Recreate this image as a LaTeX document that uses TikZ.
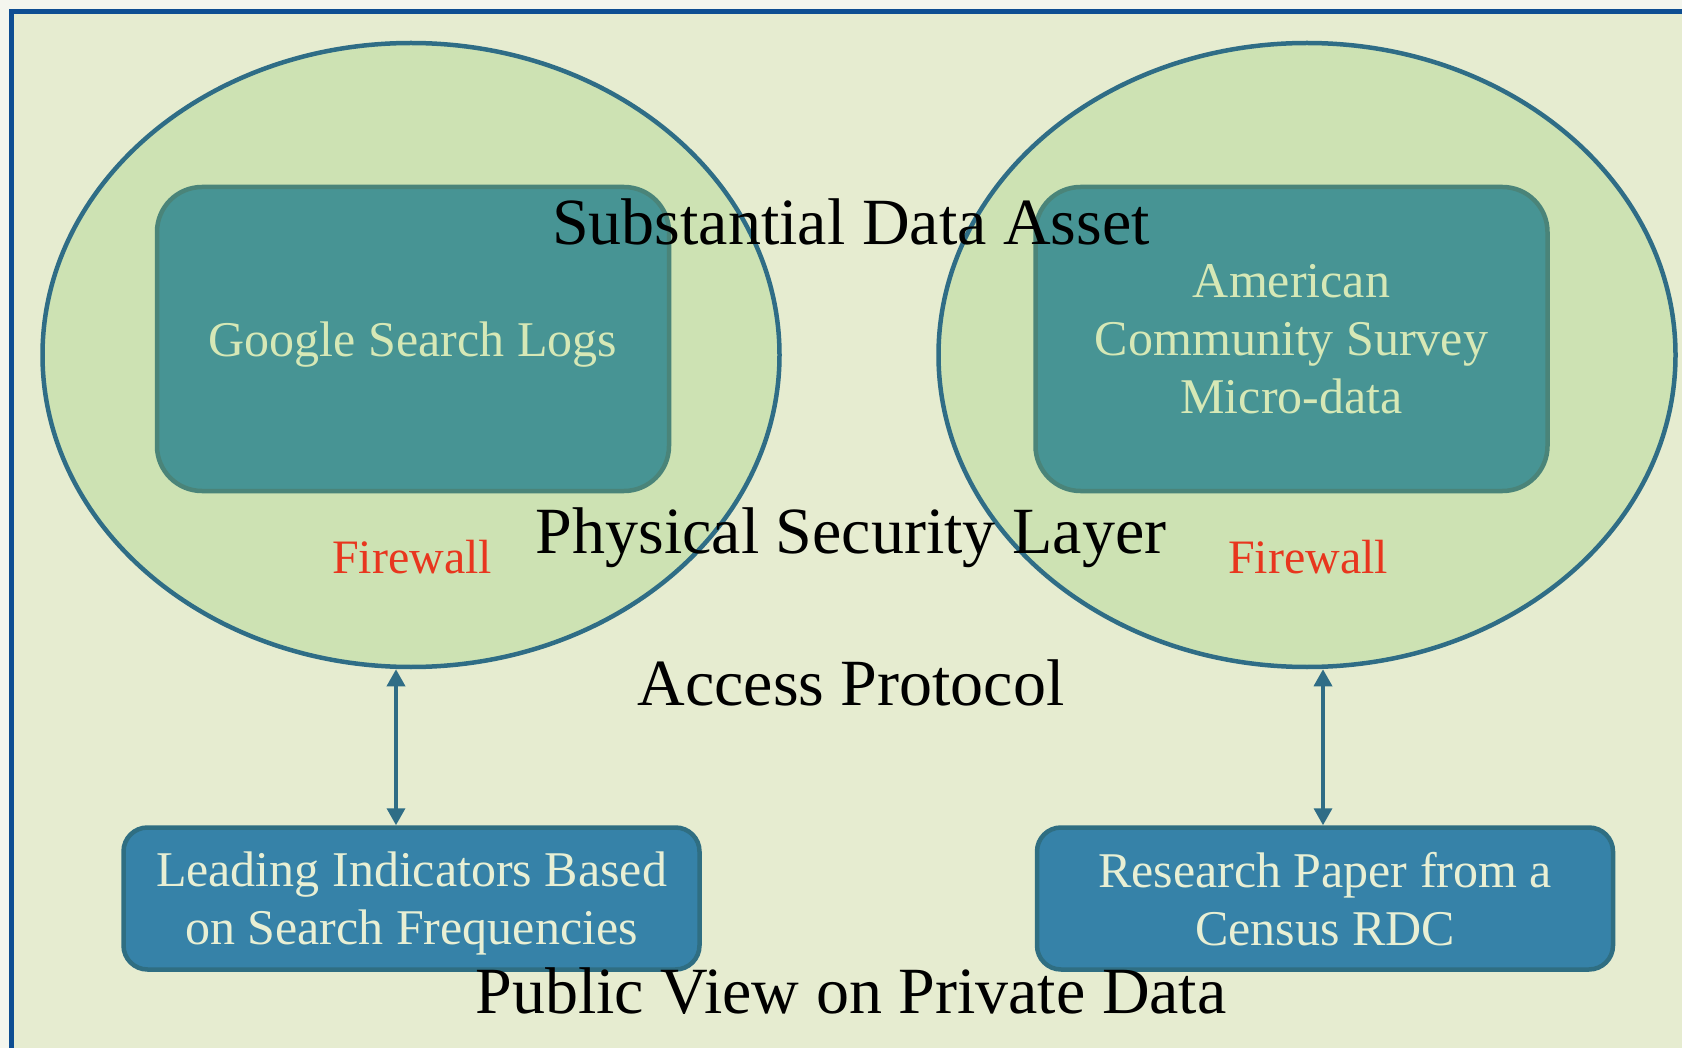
\documentclass[tikz,border=0pt]{standalone}
\usepackage{fontspec}
\setmainfont{Liberation Serif}
\usetikzlibrary{shapes,arrows.meta,positioning}
\usepackage{xcolor}

\definecolor{pagebg}{HTML}{F4F6EE}
\definecolor{framefill}{HTML}{E6ECD0}
\definecolor{framedraw}{HTML}{0E4E92}
\definecolor{zonefill}{HTML}{CDE2B3}
\definecolor{zonedraw}{HTML}{2F6D86}
\definecolor{storefill}{HTML}{479494}
\definecolor{storedraw}{HTML}{4A8479}
\definecolor{outfill}{HTML}{3682A8}
\definecolor{outdraw}{HTML}{2F6E82}
\definecolor{storetext}{HTML}{D6E8B6}
\definecolor{outtext}{HTML}{E8EFD4}
\definecolor{wallred}{HTML}{E8361E}

\begin{document}
\begin{tikzpicture}[x=1pt, y=-1pt]
    \tikzstyle{zone} = [ellipse, draw=zonedraw, fill=zonefill, line width=4.5pt, minimum width=737pt, minimum height=624pt, inner sep=0pt]
    \tikzstyle{store} = [rectangle, draw=storedraw, fill=storefill, line width=4.5pt, rounded corners=45pt, minimum width=512pt, minimum height=304pt, align=center, text depth=0pt, text=storetext, font=\fontsize{50}{58}\selectfont]
    \tikzstyle{output} = [rectangle, draw=outdraw, fill=outfill, line width=4.5pt, rounded corners=24pt, minimum width=576pt, minimum height=142pt, align=center, text depth=0pt, text=outtext, font=\fontsize{50}{58}\selectfont]
    \tikzstyle{layer} = [anchor=base, text=black, font=\fontsize{66}{70}\selectfont]
    \tikzstyle{wall} = [anchor=base, text=wallred, font=\fontsize{48}{52}\selectfont]
    \tikzstyle{link} = [{Triangle[width=18pt,length=17pt]}-{Triangle[width=18pt,length=17pt]}, draw=zonedraw, line width=3.5pt]

    \useasboundingbox (0,0) rectangle (1682,1048);
    \fill[pagebg] (0,0) rectangle (1682,1048);
    \draw[draw=framedraw, fill=framefill, line width=5pt] (11.5,11.5) rectangle (1710,1080);

    % secured areas
    \node (googlezone) [zone] at (411,355) {};
    \node (censuszone) [zone] at (1307,355) {};

    % data assets
    \node (logs) [store] at (413,339) {Google Search Logs};
    \node (acs) [store] at (1291.5,339) {American\\Community Survey\\Micro-data};

    % public outputs
    \node (indicators) [output] at (411.5,898.5) {Leading Indicators Based\\on Search Frequencies};
    \node (paper) [output] at (1325,898.5) {Research Paper from a\\Census RDC};

    \node (wallleft) [wall] at (412,573) {Firewall};
    \node (wallright) [wall] at (1308,573) {Firewall};

    \node (asset) [layer] at (851,245) {Substantial Data Asset};
    \node (physical) [layer] at (851,553) {Physical Security Layer};
    \node (access) [layer] at (851,705) {Access Protocol};
    \node (public) [layer] at (851,1013) {Public View on Private Data};

    \draw [link] ([xshift=-15.5pt]indicators.north) -- ([xshift=-15.5pt]indicators.north |- googlezone.south);
    \draw [link] ([xshift=-2pt]paper.north) -- ([xshift=-2pt]paper.north |- censuszone.south);

\end{tikzpicture}
\end{document}
